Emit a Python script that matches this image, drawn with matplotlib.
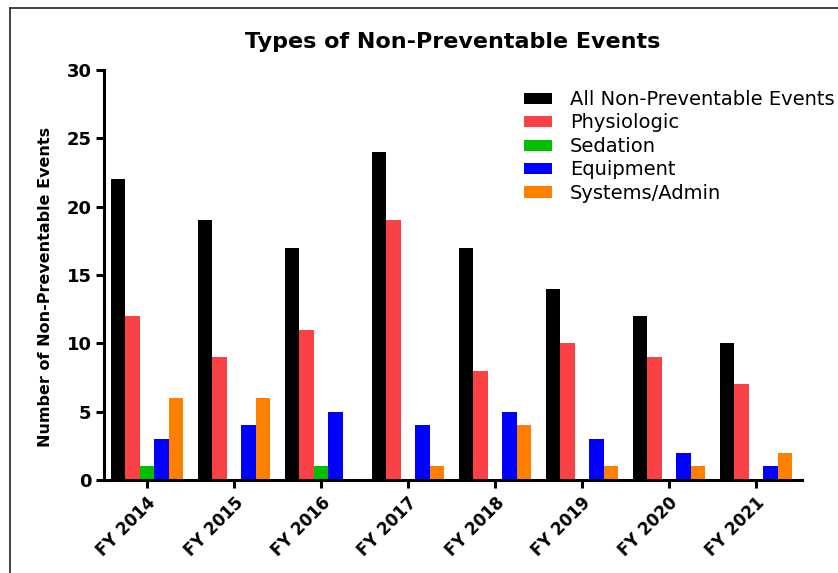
import matplotlib
matplotlib.use("Agg")
import matplotlib.pyplot as plt
from matplotlib.lines import Line2D
import numpy as np

plt.rcParams['font.family'] = ['DejaVu Sans']

years = ["FY 2014", "FY 2015", "FY 2016", "FY 2017", "FY 2018", "FY 2019", "FY 2020", "FY 2021"]
all_events = [22, 19, 17, 24, 17, 14, 12, 10]
physiologic = [12, 9, 11, 19, 8, 10, 9, 7]
sedation = [1, 0, 1, 0, 0, 0, 0, 0]
equipment = [3, 4, 5, 4, 5, 3, 2, 1]
systems_admin = [6, 6, 0, 1, 4, 1, 1, 2]

series = [
    ("All Non-Preventable Events", all_events, "#000000"),
    ("Physiologic", physiologic, "#FA4246"),
    ("Sedation", sedation, "#00C000"),
    ("Equipment", equipment, "#0000FF"),
    ("Systems/Admin", systems_admin, "#FF8000"),
]

W, H = 838, 573
fig = plt.figure(figsize=(W / 100, H / 100), dpi=100)
ax = fig.add_axes([104 / W, 1 - 480 / H, (802 - 104) / W, (480 - 70) / H])

x = np.arange(len(years))
bw = 1 / 6
for i, (name, vals, col) in enumerate(series):
    ax.bar(x + (i - 2) * bw, vals, width=bw, color=col, label=name, linewidth=0)

ax.set_xlim(-0.494, 7.53)
ax.set_ylim(0, 30)
ax.set_yticks([0, 5, 10, 15, 20, 25, 30])
ax.set_xticks(x)
ax.set_xticklabels(years, rotation=45, ha='right', rotation_mode='anchor',
                   fontsize=12, fontweight='bold')
for lab in ax.get_yticklabels():
    lab.set_fontweight('bold')
    lab.set_fontsize(13)

for s in ['top', 'right']:
    ax.spines[s].set_visible(False)
for s in ['left', 'bottom']:
    ax.spines[s].set_linewidth(2.2)
ax.tick_params(axis='both', width=2.2, length=6, direction='out')
ax.tick_params(axis='x', pad=4)
ax.tick_params(axis='y', pad=3)

ax.set_ylabel("Number of Non-Preventable Events", fontsize=11.5, fontweight='bold',
              va='center')
ax.yaxis.set_label_coords(-0.0845, 0.47)
fig.text(453 / W, 1 - 42 / H, "Types of Non-Preventable Events", ha='center', va='center',
         fontsize=16, fontweight='bold')

ax.legend(loc='upper left', bbox_to_anchor=(524 / W, 1 - 90 / H), bbox_transform=fig.transFigure,
          frameon=False, fontsize=14, handlelength=1.45, handleheight=0.5, handletextpad=0.9,
          labelspacing=0.23, borderpad=0, borderaxespad=0)

# partial figure frame (left and top edges)
fig.add_artist(Line2D([10 / W, 10 / W], [0, 1 - 8 / H], transform=fig.transFigure,
                      color='#333333', linewidth=1.3))
fig.add_artist(Line2D([10 / W, 1], [1 - 8 / H, 1 - 8 / H], transform=fig.transFigure,
                      color='#333333', linewidth=1.3))

fig.savefig("out.png", dpi=100)
